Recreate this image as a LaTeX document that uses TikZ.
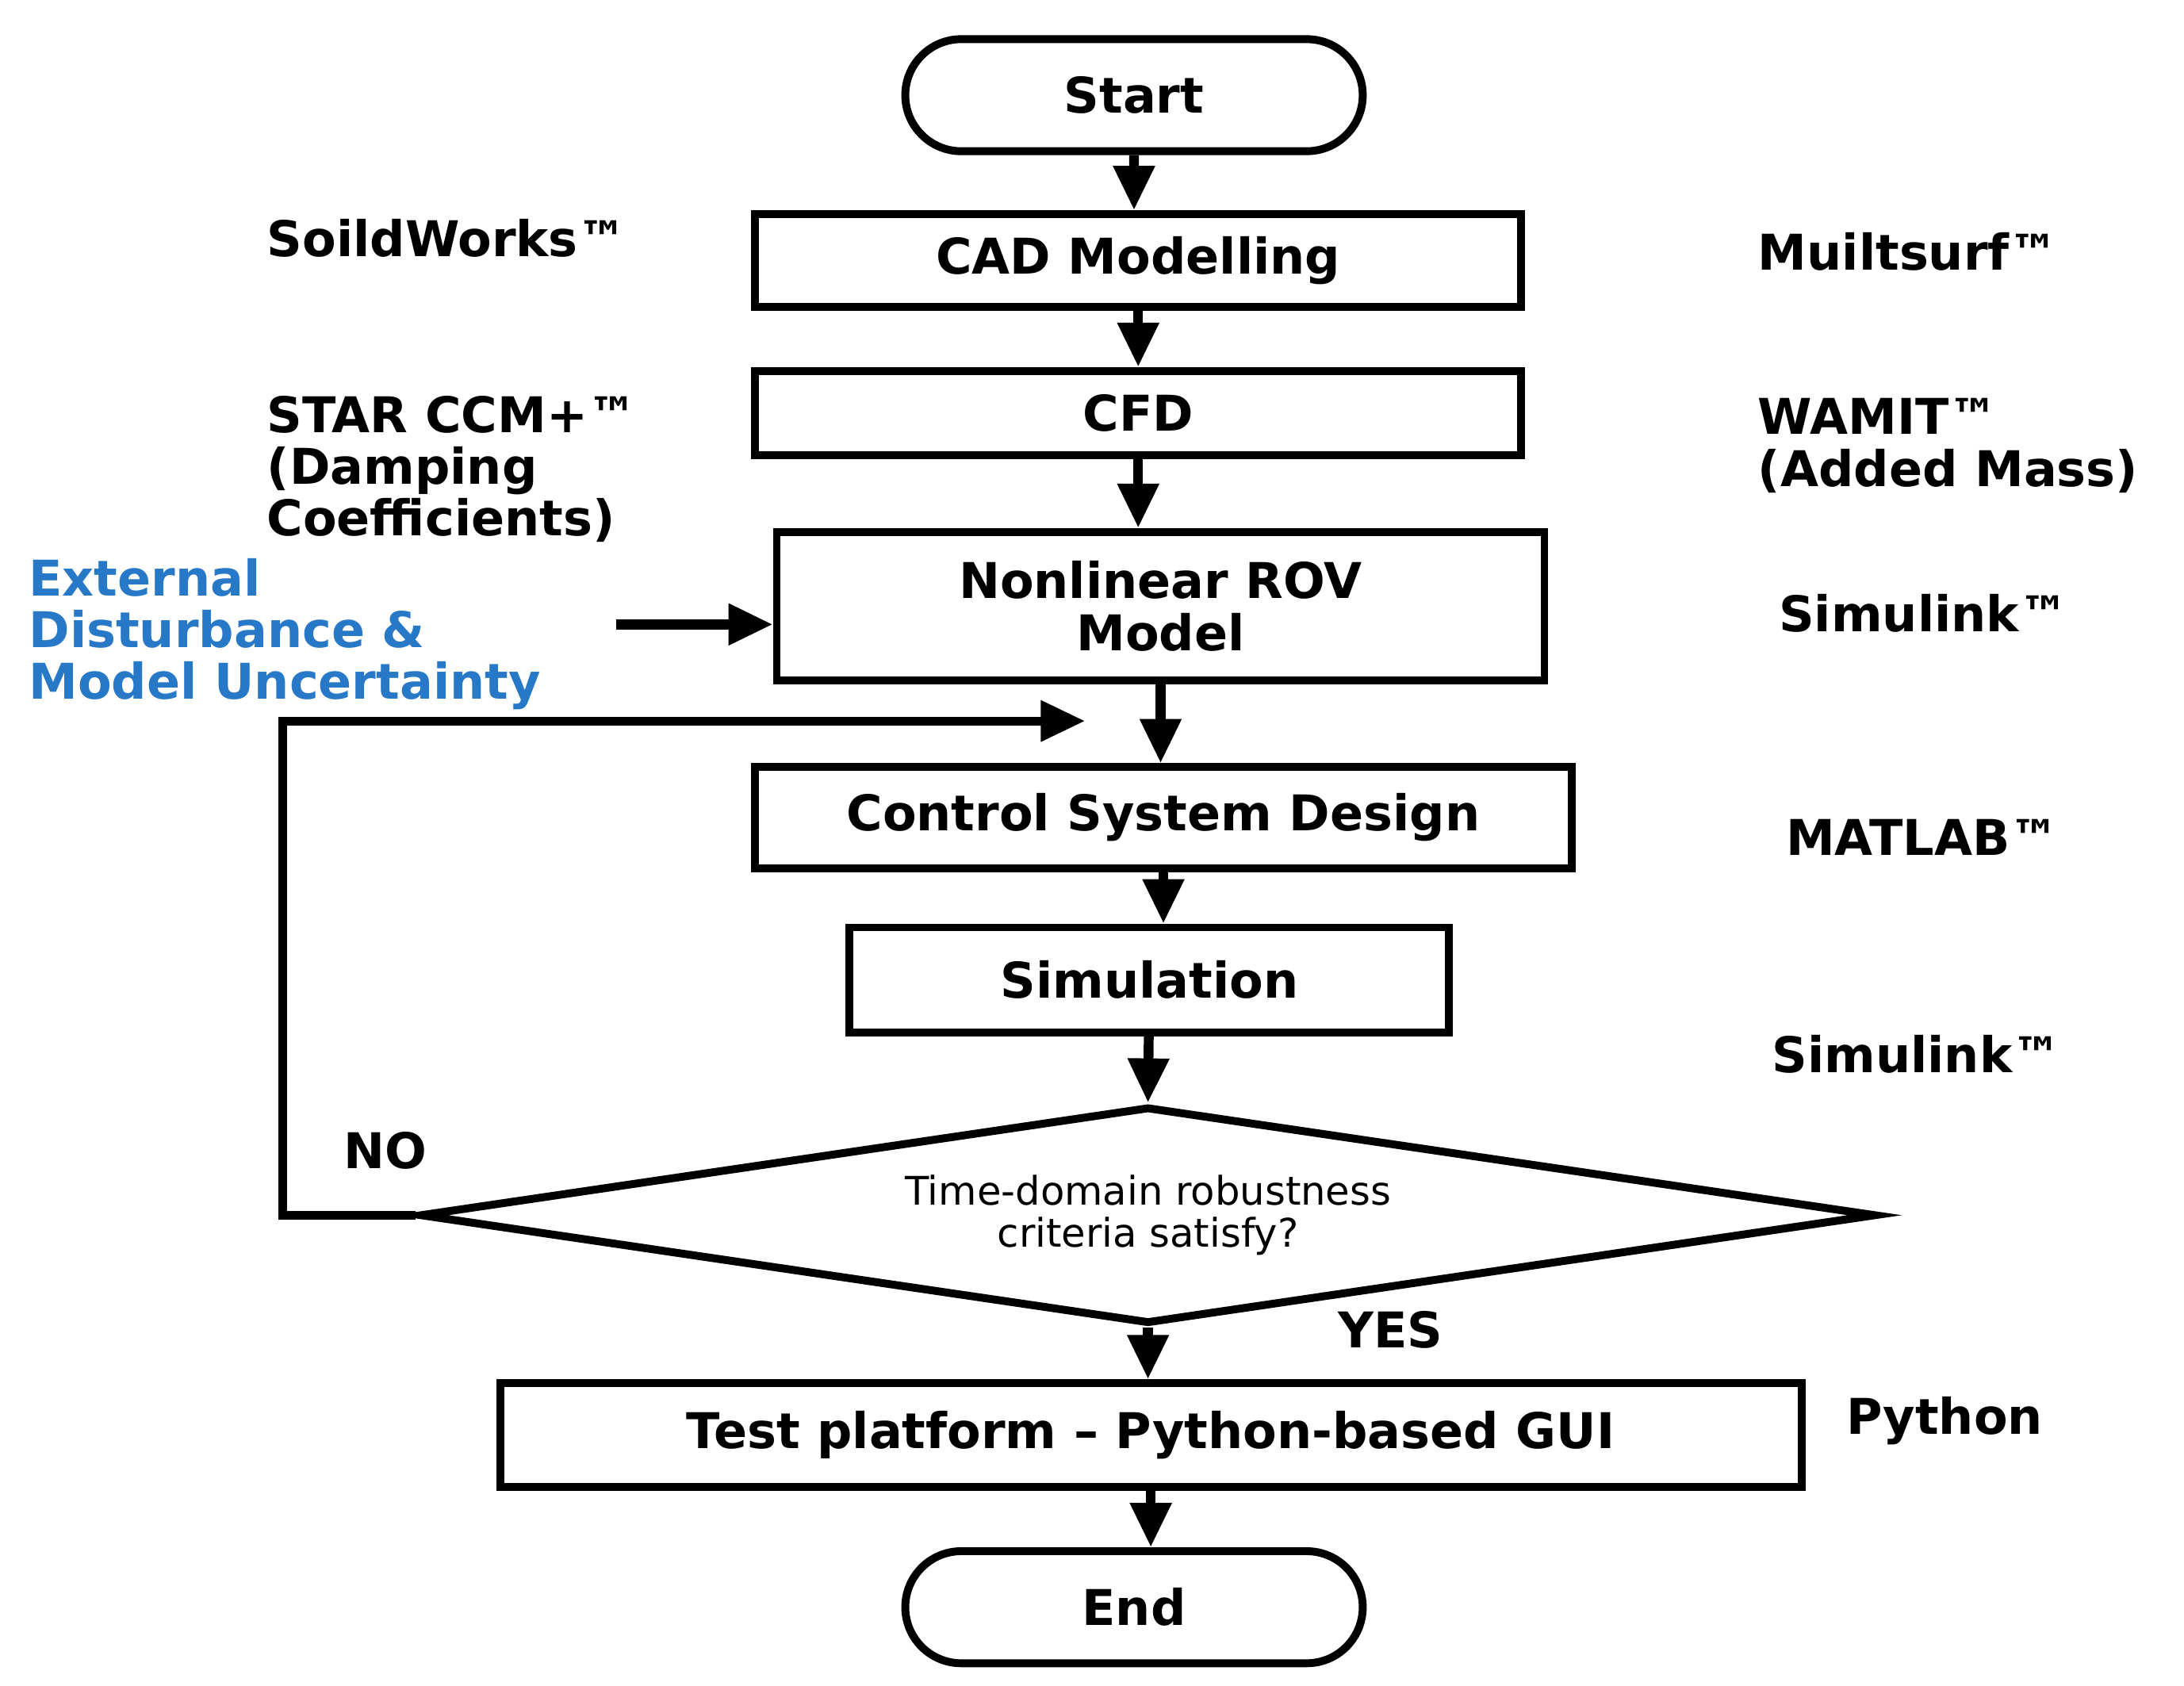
\documentclass[tikz,border=0pt]{standalone}
\usepackage{fontspec}
\setmainfont{DejaVu Sans}
\usetikzlibrary{arrows.meta,shapes.geometric,shapes.misc,positioning}

\begin{document}
\begin{tikzpicture}[x=0.01cm,y=-0.01cm,>={Triangle[length=9pt,width=8pt]},
  font=\bfseries\fontsize{10}{10.5}\selectfont]
  \tikzstyle{box}=[rectangle,draw,line width=1.6pt,inner sep=0pt]
  \tikzstyle{term}=[rounded rectangle,draw,line width=1.6pt,minimum width=3.5cm,minimum height=0.8cm]
  \tikzstyle{flow}=[->,line width=2pt]
  \tikzstyle{tool}=[anchor=west,align=left,inner sep=0pt]
  \useasboundingbox (0,0) rectangle (1560,1204);
  % main column
  \node [term] (start) at (810,68) {Start};
  \node [box,minimum width=5.47cm,minimum height=0.66cm] (cad) at (813,186) {CAD Modelling};
  \node [box,minimum width=5.47cm,minimum height=0.6cm] (cfd) at (813,295) {CFD};
  \node [box,minimum width=5.48cm,minimum height=1.06cm,align=center] (rov) at (829,433) {Nonlinear ROV\\Model};
  \node [box,minimum width=5.83cm,minimum height=0.72cm] (csd) at (831,584) {Control System Design};
  \node [box,minimum width=4.28cm,minimum height=0.75cm] (sim) at (821,700) {Simulation};
  \node [diamond,draw,line width=1.6pt,aspect=6.7,minimum width=10.4cm,minimum height=1.55cm,inner sep=0pt,
    align=center,font=\fontsize{8}{8.5}\selectfont] (dec) at (820,868) {Time-domain robustness\\criteria satisfy?};
  \node [box,minimum width=9.29cm,minimum height=0.74cm] (test) at (822,1025) {Test platform -- Python-based GUI};
  \node [term] (end) at (810,1148) {End};
  % tools
  \node [tool] (sw) at (190,170) {SoildWorks\texttrademark};
  \node [tool] (ms) at (1255,180) {Muiltsurf\texttrademark};
  \node [tool,anchor=north west] (star) at (190,282) {STAR CCM+\texttrademark\\(Damping\\Coefficients)};
  \node [tool,anchor=north west] (wam) at (1255,284) {WAMIT\texttrademark\\(Added Mass)};
  \node [tool,anchor=north west,text={rgb,255:red,40;green,120;blue,200}] (ext) at (20,398) {External\\Disturbance \&\\Model Uncertainty};
  \node [tool] (sl1) at (1270,438) {Simulink\texttrademark};
  \node [tool] (mat) at (1275,598) {MATLAB\texttrademark};
  \node [tool] (sl2) at (1265,753) {Simulink\texttrademark};
  \node [tool] (no) at (245,822) {NO};
  \node [tool] (yes) at (955,950) {YES};
  \node [tool] (py) at (1318,1015) {Python};
  % connectors
  \draw [flow] (start) -- (start |- cad.north);
  \draw [flow] (cad) -- (cad |- cfd.north);
  \draw [flow] (cfd) -- (cfd |- rov.north);
  \draw [flow] (rov) -- (rov |- csd.north);
  \draw [flow] (csd) -- (csd |- sim.north);
  \draw [flow] (sim) -- (dec.north);
  \draw [flow] (dec) -- (dec |- test.north);
  \draw [flow] (test) -- (test |- end.north);
  \coordinate (extend) at (440,446);
  \draw [flow] (extend) -- (rov.west |- extend);
  \coordinate (fb) at (775,515);
  \draw [flow,line width=1.8pt] (dec.west) -- ++(-95,0) |- (fb);
\end{tikzpicture}
\end{document}
